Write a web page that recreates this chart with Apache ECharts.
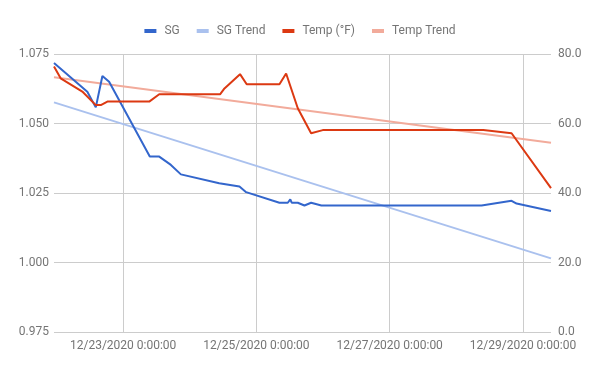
<!DOCTYPE html>
<html>
<head>
<meta charset="utf-8">
<script src="https://cdn.jsdelivr.net/npm/echarts@6/dist/echarts.min.js"></script>
<style>
html,body{margin:0;padding:0;background:#fff;}
#c{width:600px;height:371px;}
</style>
</head>
<body>
<div id="c"></div>
<script>
// Hours since 12/23/2020 0:00:00
const sgHours   = [-24.9, -12.9, -9.85, -7.47, -5.05, 9.6, 13.0, 17.2, 20.8, 34.6, 41.9, 44.3, 56.3, 59.3, 60.2, 60.7, 62.9, 65.3, 67.7, 71.4, 129.1, 139.9, 141.7, 154.1];
const sgValues  = [1.0718, 1.0614, 1.0558, 1.0671, 1.0650, 1.0381, 1.0381, 1.0351, 1.0317, 1.0285, 1.0273, 1.0253, 1.0215, 1.0215, 1.0227, 1.0215, 1.0215, 1.0205, 1.0215, 1.0205, 1.0205, 1.0222, 1.0212, 1.0185];
const tempHours = [-24.9, -22.5, -14.7, -9.85, -8.05, -5.67, 9.4, 13.0, 34.9, 36.5, 42.1, 44.5, 56.3, 58.7, 62.9, 67.7, 71.9, 129.7, 139.9, 154.1];
const tempValues= [76.4, 73.0, 69.2, 65.3, 65.3, 66.3, 66.3, 68.4, 68.4, 70.1, 74.2, 71.3, 71.3, 74.4, 64.4, 57.2, 58.1, 58.1, 57.2, 41.4];
const trendHours = [-24.9, 154.1];
const sgTrend    = [1.0576, 1.0015];
const tempTrend  = [73.3, 54.45];

const xTickHours  = [0, 48, 96, 144];
const xTickLabels = ['12/23/2020 0:00:00', '12/25/2020 0:00:00', '12/27/2020 0:00:00', '12/29/2020 0:00:00'];
const sgTicks   = [0.975, 1.000, 1.025, 1.050, 1.075];
const tempTicks = [0, 20, 40, 60, 80];

const zip = (a, b) => a.map((v, i) => [v, b[i]]);
const labelColor = '#757575';
const gridColor = '#cccccc';
const font = 'Roboto, "Noto Sans", sans-serif';

const chart = echarts.init(document.getElementById('c'), null, {renderer: 'canvas'});
chart.setOption({
  animation: false,
  textStyle: {fontFamily: font},
  legend: {
    top: 20, left: 'center',
    itemWidth: 12, itemHeight: 4, itemGap: 17,
    icon: 'rect',
    textStyle: {color: labelColor, fontSize: 12, fontFamily: font, padding: [0, 0, 0, 3]},
    data: ['SG', 'SG Trend', 'Temp (°F)', 'Temp Trend']
  },
  grid: {left: 54, right: 49, top: 54, bottom: 39, containLabel: false},
  xAxis: {
    type: 'value',
    min: trendHours[0], max: trendHours[1],
    axisLine: {show: false},
    axisTick: {show: false, customValues: xTickHours},
    axisLabel: {
      customValues: xTickHours,
      color: labelColor, fontSize: 12, fontFamily: font, margin: 8,
      formatter: v => xTickLabels[xTickHours.indexOf(v)] || ''
    },
    splitLine: {show: true, lineStyle: {color: gridColor, width: 1}}
  },
  yAxis: [
    {
      type: 'value', min: sgTicks[0], max: sgTicks[sgTicks.length - 1], interval: 0.025,
      axisLine: {show: false}, axisTick: {show: false},
      axisLabel: {color: labelColor, fontSize: 12, fontFamily: font, margin: 5, formatter: v => v.toFixed(3)},
      splitLine: {show: true, lineStyle: {color: gridColor, width: 1}}
    },
    {
      type: 'value', min: tempTicks[0], max: tempTicks[tempTicks.length - 1], interval: 20,
      axisLine: {show: false}, axisTick: {show: false},
      axisLabel: {color: labelColor, fontSize: 12, fontFamily: font, margin: 7, formatter: v => v.toFixed(1)},
      splitLine: {show: false}
    }
  ],
  series: [
    {name: 'SG Trend', type: 'line', yAxisIndex: 0, data: zip(trendHours, sgTrend), showSymbol: false, symbol: 'none',
     lineStyle: {color: '#aac1ee', width: 2}, itemStyle: {color: '#aac1ee'}, z: 1},
    {name: 'Temp Trend', type: 'line', yAxisIndex: 1, data: zip(trendHours, tempTrend), showSymbol: false, symbol: 'none',
     lineStyle: {color: '#f2ab9b', width: 2}, itemStyle: {color: '#f2ab9b'}, z: 1},
    {name: 'SG', type: 'line', yAxisIndex: 0, data: zip(sgHours, sgValues), showSymbol: false, symbol: 'none',
     lineStyle: {color: '#3366cc', width: 2}, itemStyle: {color: '#3366cc'}, z: 3},
    {name: 'Temp (°F)', type: 'line', yAxisIndex: 1, data: zip(tempHours, tempValues), showSymbol: false, symbol: 'none',
     lineStyle: {color: '#dc3912', width: 2}, itemStyle: {color: '#dc3912'}, z: 4}
  ]
});
</script>
</body>
</html>
